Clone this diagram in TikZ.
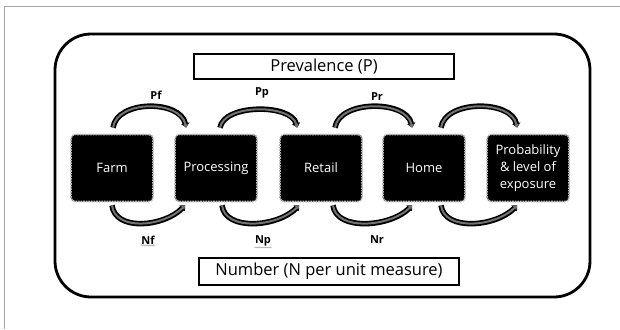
\documentclass[tikz,border=0pt]{standalone}
\usepackage{fontspec}
\setmainfont{Open Sans}
\usetikzlibrary{arrows.meta,decorations.pathmorphing}
\begin{document}
\begin{tikzpicture}[x=1pt,y=-1pt,
  stage/.style={fill=black, draw=gray!55, line width=1.6pt, densely dotted, rounded corners=4pt,
    minimum width=82pt, minimum height=67pt, text=white, font=\fontsize{13}{17}\selectfont,
    align=center, inner sep=1pt},
  titlebox/.style={draw=black, line width=2pt, fill=white, minimum width=260pt,
    font=\fontsize{16.5}{18}\selectfont, inner sep=0pt},
  lab/.style={font=\bfseries\fontsize{11}{13}\selectfont, inner sep=0.5pt},
  flow/.style={line width=2pt, draw=black!55, -{Triangle[length=3.5pt,width=4.5pt]},
    preaction={draw=black, line width=5.5pt, -{Triangle[length=4.5pt,width=8pt]}}},
  wavy/.style={draw=gray!70, line width=0.5pt, decorate,
    decoration={snake, amplitude=0.5pt, segment length=2pt}}]
\useasboundingbox (0,0) rectangle (620,329);
% outer frame (top and left only visible)
\draw[gray!70, line width=0.9pt] (620,6) -- (4,6) -- (4,329);
% rounded panel
\draw[line width=2.8pt, rounded corners=36pt] (55,34) rectangle (590,297);
% title boxes
\node[titlebox, minimum height=25pt] (prev) at (324,66.5) {Prevalence (P)};
\node[titlebox, minimum height=27pt] (num) at (329,271.5) {Number (N per unit measure)};
% stages
\node[stage] (farm) at (112,168) {Farm};
\node[stage] (proc) at (216,168) {Processing};
\node[stage] (retail) at (321,168) {Retail};
\node[stage] (home) at (424,168) {Home};
\node[stage] (prob) at (528,168) {Probability\\\&\ level of\\exposure};
% top arcs
\draw[flow] ([xshift=1pt,yshift=6pt]farm.north) .. controls +(4,-28) and +(-6,-28) .. ([xshift=12pt,yshift=6pt]proc.north west);
\draw[flow] ([xshift=4pt,yshift=6pt]proc.north) .. controls +(4,-24) and +(-6,-24) .. ([xshift=18pt,yshift=6pt]retail.north west);
\draw[flow] ([xshift=14pt,yshift=6pt]retail.north) .. controls +(4,-28) and +(-6,-28) .. ([xshift=30pt,yshift=6pt]home.north west);
\draw[flow] ([xshift=17pt,yshift=6pt]home.north) .. controls +(4,-28) and +(-6,-28) .. ([xshift=31pt,yshift=6pt]prob.north west);
% bottom arcs
\draw[flow] ([xshift=0pt,yshift=-3pt]farm.south) .. controls +(3,26) and +(-22,22) .. ([xshift=11pt,yshift=-3pt]proc.south west);
\draw[flow] ([xshift=6pt,yshift=-3pt]proc.south) .. controls +(3,26) and +(-22,22) .. ([xshift=20pt,yshift=-3pt]retail.south west);
\draw[flow] ([xshift=12pt,yshift=-3pt]retail.south) .. controls +(3,26) and +(-22,22) .. ([xshift=30pt,yshift=-3pt]home.south west);
\draw[flow] ([xshift=17pt,yshift=-3pt]home.south) .. controls +(3,26) and +(-22,22) .. ([xshift=31pt,yshift=-3pt]prob.south west);
% labels
\node[lab] (lpf) at (156,95) {Pf};
\node[lab] (lpp) at (262,93) {Pp};
\node[lab] (lpr) at (377,97) {Pr};
\node[lab] (lnf) at (148,240) {Nf};
\node[lab] (lnp) at (263,241) {Np};
\node[lab] (lnr) at (377,240) {Nr};
\draw[wavy] ([yshift=-0.5pt]lnf.south west) -- ([yshift=-0.5pt]lnf.south east);
\draw[wavy] ([yshift=-0.5pt]lnp.south west) -- ([yshift=-0.5pt]lnp.south east);
\end{tikzpicture}
\end{document}
